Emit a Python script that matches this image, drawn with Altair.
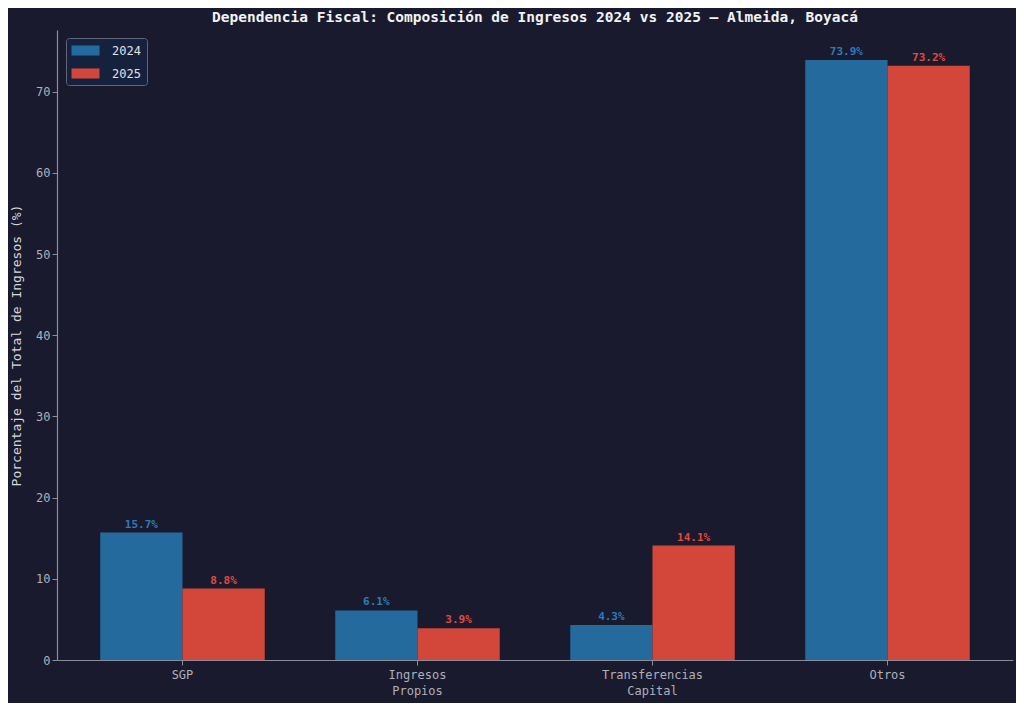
import altair as alt
import pandas as pd

categories = ["SGP", "Ingresos\nPropios", "Transferencias\nCapital", "Otros"]
years = ["2024", "2025"]
values_2024 = [15.7, 6.1, 4.3, 73.9]
values_2025 = [8.8, 3.9, 14.1, 73.2]

rows = []
for c, v in zip(categories, values_2024):
    rows.append({"cat": c, "year": "2024", "value": v, "label": f"{v:.1f}%"})
for c, v in zip(categories, values_2025):
    rows.append({"cat": c, "year": "2025", "value": v, "label": f"{v:.1f}%"})
df = pd.DataFrame(rows)

FONT = "DejaVu Sans Mono"
BG = "#1a1a2e"
bar_colors = ["#246a9d", "#d3473b"]
text_colors = ["#2a7dbb", "#e04a3c"]

x = alt.X(
    "cat:N",
    sort=categories,
    title=None,
    scale=alt.Scale(paddingInner=0.3, paddingOuter=0.184),
    axis=alt.Axis(
        labelExpr="split(datum.label, '\\n')",
        labelAngle=0,
        labelFontSize=12,
        labelColor="#b0b0b8",
        labelPadding=4,
        labelLineHeight=16,
        tickSize=5,
    ),
)
xo = alt.XOffset("year:N", sort=years, scale=alt.Scale(paddingInner=0, paddingOuter=0))
y = alt.Y(
    "value:Q",
    title="Porcentaje del Total de Ingresos (%)",
    scale=alt.Scale(domain=[0, 77.6], nice=False),
    axis=alt.Axis(
        values=[0, 10, 20, 30, 40, 50, 60, 70],
        labelFontSize=12,
        labelColor="#b0b0b8",
        titleFontSize=13,
        titleFontWeight="normal",
        titleColor="#d8d8dc",
        titlePadding=12,
        tickSize=5,
        grid=False,
    ),
)

bars = alt.Chart(df).mark_bar().encode(
    x=x,
    xOffset=xo,
    y=y,
    color=alt.Color(
        "year:N",
        sort=years,
        scale=alt.Scale(domain=years, range=bar_colors),
        legend=alt.Legend(
            title=None,
            orient="none",
            legendX=9,
            legendY=8,
            fillColor="#16213e",
            strokeColor="#5f6678",
            cornerRadius=3,
            padding=5.5,
            labelFontSize=12,
            labelColor="#e0e0e4",
            labelOffset=19.5,
            symbolType="M-2,-0.72H2V0.72H-2Z",
            symbolSize=196,
            symbolStrokeWidth=0,
            symbolOffset=7,
            rowPadding=10,
        ),
    ),
)

texts = alt.Chart(df).mark_text(
    dy=-8, fontSize=11, fontWeight="bold", font=FONT
).encode(
    x=x,
    xOffset=xo,
    y=y,
    text="label:N",
    color=alt.Color(
        "year:N", sort=years, scale=alt.Scale(domain=years, range=text_colors), legend=None
    ),
)

chart = (
    alt.layer(bars, texts)
    .resolve_scale(color="independent")
    .properties(
        width=956,
        height=630,
        autosize=alt.AutoSizeParams(type="none"),
        padding={"left": 49, "top": 22, "right": 3, "bottom": 43},
        background=BG,
        title=alt.TitleParams(
            "Dependencia Fiscal: Composición de Ingresos 2024 vs 2025 — Almeida, Boyacá",
            fontSize=14.5,
            fontWeight="bold",
            color="#f2f2f4",
            font=FONT,
            anchor="middle",
            offset=5,
        ),
    )
    .configure_view(stroke=None, fill=BG)
    .configure_axis(
        labelFont=FONT,
        titleFont=FONT,
        domainColor="#8a8e9c",
        tickColor="#8a8e9c",
        domainWidth=1.2,
    )
    .configure_legend(labelFont=FONT)
)

chart.save("out.html", embed_options={"renderer": "svg", "actions": False})
